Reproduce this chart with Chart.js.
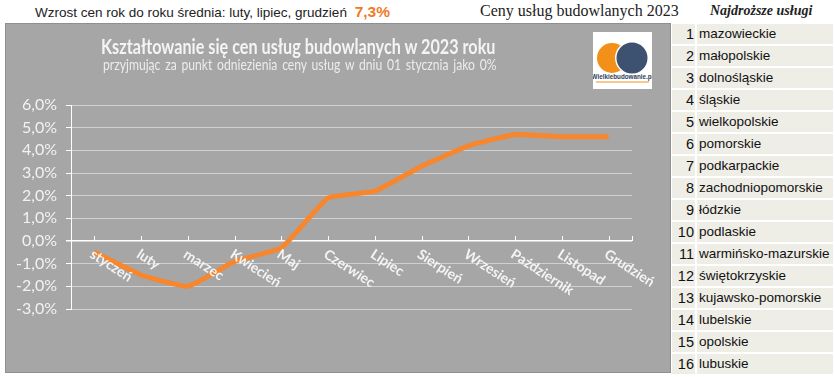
<!DOCTYPE html>
<html>
<head>
<meta charset="utf-8">
<script src="https://cdn.jsdelivr.net/npm/chart.js@4"></script>
<style>
  html, body { margin: 0; padding: 0; background: #ffffff; }
  body { width: 835px; height: 377px; position: relative; overflow: hidden; }
  .abs { position: absolute; white-space: nowrap; }
  #hdrLeft { left: 35px; top: 3px; font: 13.5px "Liberation Sans", Arial, sans-serif; color: #222; }
  #hdrLeft b { color: #f07a28; font-size: 15.5px; margin-left: 4px; }
  #hdrMid { left: 480px; top: 2px; font: 16px "Liberation Serif", serif; color: #222; }
  #hdrRight { left: 710px; top: 3px; font: italic bold 14px "Liberation Serif", serif; color: #222; }
  #panel { left: 5px; top: 23px; width: 664px; height: 348px; background: #a6a6a6; border: 1px solid #8f8f8f; }
  #chart { position: absolute; left: -1px; top: -1px; }
  #title { left: 101px; top: 34px; font: bold 20px Lato, sans-serif; color: #f4f4f4; transform: scaleX(0.81); transform-origin: left top; }
  #subtitle { left: 103px; top: 55px; font: 15px Lato, sans-serif; color: #ececec; word-spacing: 2px; transform: scaleX(0.81); transform-origin: left top; }
  #logo { left: 593px; top: 32px; width: 59px; height: 57px; background: #fff; }
  #ranks { left: 672px; top: 24px; border-collapse: collapse; font: 13.5px "Liberation Sans", Arial, sans-serif; color: #111; }
  #ranks td { background: #eeede6; height: 20px; padding: 0; border: 2px solid #ffffff; border-left: none; border-top: none; line-height: 20px; }
  #ranks td.n { width: 22px; text-align: right; padding-right: 1px; font-size: 14.5px; }
  #ranks td.t { width: 134px; padding-left: 2px; }
</style>
</head>
<body>
<div class="abs" id="hdrLeft">Wzrost cen rok do roku średnia: luty, lipiec, grudzień <b>7,3%</b></div>
<div class="abs" id="hdrMid">Ceny usług budowlanych 2023</div>
<div class="abs" id="hdrRight">Najdroższe usługi</div>

<div class="abs" id="panel"><canvas id="chart" width="666" height="350"></canvas></div>
<div class="abs" id="title">Kształtowanie się cen usług budowlanych w 2023 roku</div>
<div class="abs" id="subtitle">przyjmując za punkt odniezienia ceny usług w dniu 01 stycznia jako 0%</div>

<div class="abs" id="logo">
  <svg width="59" height="57" viewBox="0 0 59 57">
    <circle cx="19" cy="26" r="15" fill="#f39019"/>
    <circle cx="39" cy="26" r="17" fill="#ffffff"/>
    <circle cx="39" cy="26" r="15.5" fill="#3d5270"/>
    <text x="29.5" y="47" font-family="Liberation Sans, Arial" font-size="6.3" font-weight="bold" fill="#2d3f5c" text-anchor="middle">Wielkiebudowanie.pl</text>
    <line x1="3" y1="50" x2="56" y2="50" stroke="#f39019" stroke-width="1"/>
  </svg>
</div>

<table class="abs" id="ranks"><tbody id="rankBody"></tbody></table>

<script>
// months on the x axis
const months = ['styczeń', 'luty', 'marzec', 'Kwiecień', 'Maj', 'Czerwiec', 'Lipiec',
                'Sierpień', 'Wrzesień', 'Październik', 'Listopad', 'Grudzień'];
// price change vs 1 January, in percent
const priceChange = [-0.5, -1.5, -2.0, -0.9, -0.3, 1.9, 2.2, 3.3, 4.2, 4.7, 4.6, 4.6];
// y axis range / step (percent)
const yMin = -3, yMax = 6, yStep = 1;
// regions, most expensive first
const regions = ['mazowieckie', 'małopolskie', 'dolnośląskie', 'śląskie', 'wielkopolskie',
                 'pomorskie', 'podkarpackie', 'zachodniopomorskie', 'łódzkie', 'podlaskie',
                 'warmińsko-mazurskie', 'świętokrzyskie', 'kujawsko-pomorskie', 'lubelskie',
                 'opolskie', 'lubuskie'];

// ranking table on the right
let body = document.getElementById('rankBody');
regions.forEach((r, i) => {
    let tr = document.createElement('tr');
    tr.innerHTML = '<td class="n">' + (i + 1) + '</td><td class="t">' + r + '</td>';
    body.appendChild(tr);
});

function pct(v) {
    return v.toFixed(1).replace('.', ',') + '%';
}

// month labels sit under the zero line, slanted down to the right
const monthAxis = {
    id: 'monthAxis',
    afterDatasetsDraw(chart) {
        let ctx = chart.ctx;
        let xs = chart.scales.x, ys = chart.scales.y;
        let y0 = ys.getPixelForValue(0);
        ctx.save();
        ctx.strokeStyle = '#ffffff';
        ctx.lineWidth = 1;
        ctx.beginPath();
        for (let i = 0; i < months.length; i++) {
            let px = Math.round(xs.getPixelForValue(i)) + 0.5;
            ctx.moveTo(px, y0 - 5);
            ctx.lineTo(px, y0);
        }
        let end = Math.round(chart.chartArea.right) + 0.5;
        ctx.moveTo(end, y0 - 5);
        ctx.lineTo(end, y0);
        ctx.stroke();

        ctx.fillStyle = '#f4f4f4';
        ctx.font = 'bold 14px Lato, sans-serif';
        ctx.textAlign = 'left';
        ctx.textBaseline = 'top';
        for (let i = 0; i < months.length; i++) {
            let px = xs.getPixelForValue(i);
            ctx.save();
            ctx.translate(px + 1, y0 + 6);
            ctx.rotate(33 * Math.PI / 180);
            ctx.fillText(months[i], 0, 0);
            ctx.restore();
        }
        ctx.restore();
    }
};

let ctx = document.getElementById('chart');
let chart = new Chart(ctx, {
    type: 'line',
    data: {
        labels: months,
        datasets: [{
            data: priceChange,
            borderColor: '#f7862c',
            borderWidth: 5,
            pointRadius: 0,
            tension: 0.12,
            fill: false
        }]
    },
    options: {
        responsive: false,
        animation: false,
        layout: {
            padding: { left: 0, right: 39, top: 82, bottom: 64 }
        },
        plugins: {
            legend: { display: false },
            tooltip: { enabled: false }
        },
        scales: {
            x: {
                display: false,
                offset: true
            },
            y: {
                min: yMin,
                max: yMax,
                afterFit: (scale) => { scale.width = 66; },
                ticks: {
                    stepSize: yStep,
                    autoSkip: false,
                    padding: 9,
                    color: '#f2f2f2',
                    font: { family: 'Lato', size: 16 },
                    callback: (v) => pct(v)
                },
                grid: {
                    color: (c) => c.tick && c.tick.value === 0 ? '#ffffff' : '#d0d0d0',
                    lineWidth: (c) => c.tick && c.tick.value === 0 ? 1.5 : 1,
                    tickColor: '#ffffff',
                    tickLength: 5
                },
                border: { color: '#ffffff', width: 1 }
            }
        }
    },
    plugins: [monthAxis]
});
</script>
</body>
</html>
